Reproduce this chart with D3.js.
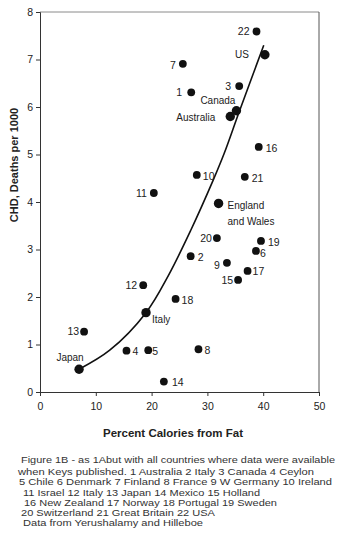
<!DOCTYPE html>
<html>
<head>
<meta charset="utf-8">
<script src="https://cdn.jsdelivr.net/npm/d3@7"></script>
<style>
  html, body { margin: 0; padding: 0; background: #fff; }
  svg { display: block; font-family: "Liberation Sans", Arial, sans-serif; }
</style>
</head>
<body>
<svg id="chart" width="343" height="537"></svg>
<script>
// Countries numbered in the caption
const numLabels = ["1","2","3","4","5","6","7","8","9","10","11","12","13","14","15","16","17","18","19","20","21","22"];
const numFat    = [27.1, 27.0, 35.7, 15.5, 19.4, 38.7, 25.6, 28.4, 33.5, 28.1, 20.4, 18.5, 7.9, 22.2, 35.5, 39.2, 37.2, 24.3, 39.6, 31.7, 36.7, 38.8];
const numChd    = [6.31, 2.86, 6.44, 0.87, 0.88, 2.97, 6.91, 0.90, 2.72, 4.57, 4.19, 2.25, 1.27, 0.22, 2.36, 5.16, 2.55, 1.96, 3.18, 3.24, 4.53, 7.59];

// Keys' original six countries
const keyNames = ["Japan", "Italy", "England\nand Wales", "Australia", "Canada", "US"];
const keyFat   = [7.0, 19.0, 32.0, 34.1, 35.2, 40.3];
const keyChd   = [0.48, 1.67, 3.97, 5.80, 5.92, 7.10];

// Fitted curve through the six countries
const curveFat = [7.0, 12.5, 19.0, 23.0, 27.0, 31.0, 33.0, 35.7, 40.1];
const curveChd = [0.48, 0.88, 1.67, 2.45, 3.40, 4.45, 5.02, 5.90, 7.30];

const xTicks = [0, 10, 20, 30, 40, 50];
const yTicks = [0, 1, 2, 3, 4, 5, 6, 7, 8];

const captionLines = [
  "Figure 1B - as 1Abut with all countries where data were available",
  "when Keys published. 1 Australia 2 Italy 3 Canada 4 Ceylon",
  "5 Chile 6 Denmark 7 Finland 8 France 9 W Germany 10 Ireland",
  "11 Israel 12 Italy 13 Japan 14 Mexico 15 Holland",
  "16 New Zealand 17 Norway 18 Portugal 19 Sweden",
  "20 Switzerland 21 Great Britain 22 USA",
  "Data from Yerushalamy and Hilleboe"
];

const svg = d3.select("#chart");
const plotL = 40, plotR = 319, plotT = 12, plotB = 392;

const x = d3.scaleLinear().domain([0, 50]).range([plotL, plotR]);
const y = d3.scaleLinear().domain([0, 8]).range([plotB, plotT]);

// frame top and right
svg.append("line").attr("x1", plotL).attr("x2", plotR).attr("y1", plotT).attr("y2", plotT)
  .attr("stroke", "#8a8a8a").attr("stroke-width", 1);
svg.append("line").attr("x1", plotR).attr("x2", plotR).attr("y1", plotT).attr("y2", plotB)
  .attr("stroke", "#555").attr("stroke-width", 1);

// axes
const yAxis = svg.append("g").attr("transform", `translate(${plotL},0)`)
  .call(d3.axisLeft(y).tickValues(yTicks).tickFormat(d3.format("d")).tickSize(4).tickPadding(3));
const xAxis = svg.append("g").attr("transform", `translate(0,${plotB})`)
  .call(d3.axisBottom(x).tickValues(xTicks).tickFormat(d3.format("d")).tickSize(4).tickPadding(7));
[xAxis, yAxis].forEach(g => {
  g.select(".domain").attr("stroke", "#333");
  g.selectAll(".tick line").attr("stroke", "#333");
  g.selectAll(".tick text").attr("fill", "#222").style("font-size", "10.5px")
    .style("font-family", '"Liberation Sans", Arial, sans-serif');
});

// axis titles
svg.append("text")
  .attr("transform", "translate(18,165) rotate(-90)")
  .attr("text-anchor", "middle")
  .style("font-size", "11px").style("font-weight", "bold").attr("fill", "#222")
  .text("CHD, Deaths per 1000");
svg.append("text")
  .attr("x", 173).attr("y", 437)
  .attr("text-anchor", "middle")
  .style("font-size", "11.5px").style("font-weight", "bold").attr("fill", "#222")
  .text("Percent Calories from Fat");

// curve
const curvePts = curveFat.map((f, i) => [f, curveChd[i]]);
svg.append("path")
  .datum(curvePts)
  .attr("fill", "none").attr("stroke", "#111").attr("stroke-width", 1.6)
  .attr("d", d3.line().x(d => x(d[0])).y(d => y(d[1])).curve(d3.curveCatmullRom.alpha(0.5)));

// numbered countries
const nums = numLabels.map((l, i) => ({ label: l, fat: numFat[i], chd: numChd[i] }));
svg.append("g").selectAll("circle").data(nums).join("circle")
  .attr("cx", d => x(d.fat)).attr("cy", d => y(d.chd)).attr("r", 3.9).attr("fill", "#111");

// label placement: negative dx places text to the left of the dot
const numOffset = {
  "1": [-9, 0], "2": [7, 1], "3": [-8, 0], "4": [6, 1], "5": [4, 1], "6": [4, 2],
  "7": [-7, 1], "8": [6, 1], "9": [-7, 2], "10": [6, 1], "11": [-7, 0], "12": [-6, 0],
  "13": [-5, 0], "14": [8, 1], "15": [-5, 0], "16": [7, 1], "17": [5, 0], "18": [6, 1],
  "19": [7, 1], "20": [-5, 0], "21": [7, 1], "22": [-7, 0]
};
svg.append("g").selectAll("text").data(nums).join("text")
  .attr("x", d => x(d.fat) + numOffset[d.label][0])
  .attr("y", d => y(d.chd) + numOffset[d.label][1])
  .attr("dy", "0.36em")
  .attr("text-anchor", d => numOffset[d.label][0] < 0 ? "end" : "start")
  .style("font-size", "10.5px").attr("fill", "#222")
  .text(d => d.label);

// Keys' six countries
const keys = keyNames.map((n, i) => ({ name: n, fat: keyFat[i], chd: keyChd[i] }));
svg.append("g").selectAll("circle").data(keys).join("circle")
  .attr("cx", d => x(d.fat)).attr("cy", d => y(d.chd)).attr("r", 4.7).attr("fill", "#111");

const keyOffset = {
  "Japan": [-9, -12, "middle"],
  "Italy": [6, 7, "start"],
  "England\nand Wales": [9, 2, "start"],
  "Australia": [-15, 1, "end"],
  "Canada": [-1, -10, "end"],
  "US": [-16, 0, "end"]
};
const keyText = svg.append("g").selectAll("text").data(keys).join("text")
  .attr("text-anchor", d => keyOffset[d.name][2])
  .style("font-size", "10px").attr("fill", "#222");
keyText.each(function(d) {
  const t = d3.select(this);
  const [dx, dy] = keyOffset[d.name];
  d.name.split("\n").forEach((line, j) => {
    t.append("tspan")
      .attr("x", x(d.fat) + dx)
      .attr("y", y(d.chd) + dy + j * 16)
      .attr("dy", "0.36em")
      .text(line);
  });
});

// caption: tightly set lines, slightly condensed vertically
const capX = [21, 18, 19, 23, 24, 21, 23];
const capY = [463, 474.5, 485, 495.5, 505.5, 515.5, 526];
const capW = [314, 296, 313, 237, 253, 194, 180];
svg.append("g").selectAll("text").data(captionLines).join("text")
  .attr("transform", (d, i) => `translate(${capX[i]},${capY[i]}) scale(1,0.86)`)
  .attr("textLength", (d, i) => capW[i]).attr("lengthAdjust", "spacingAndGlyphs")
  .style("font-size", "11px").attr("fill", "#333")
  .text(d => d);
</script>
</body>
</html>
